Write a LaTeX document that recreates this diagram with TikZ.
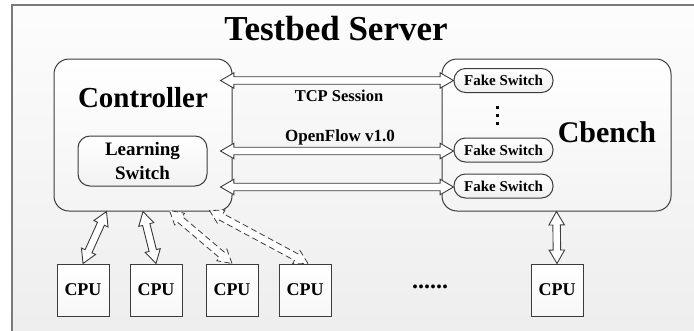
\documentclass[tikz,border=0pt]{standalone}
\usepackage{fontspec}
\setmainfont{Liberation Serif}
\usetikzlibrary{shapes.arrows,calc}
\definecolor{bordc}{HTML}{3C3C3C}
\definecolor{framec}{HTML}{7A7A7A}
\tikzset{
  bigbox/.style={draw=bordc, line width=1pt, rounded corners=15pt,
    top color=white, bottom color=gray!9, inner sep=0pt},
  lsbox/.style={draw=bordc, line width=1pt, rounded corners=12pt,
    top color=white, bottom color=gray!10, inner sep=0pt, align=center,
    font=\bfseries\fontsize{19}{24}\selectfont},
  fsbox/.style={draw=bordc, line width=1pt, rounded corners=11.5pt,
    top color=white, bottom color=gray!12, inner sep=0pt,
    minimum width=99pt, minimum height=24pt,
    font=\bfseries\fontsize{15}{16}\selectfont},
  cpubox/.style={draw=bordc, line width=1pt, top color=white, bottom color=gray!6,
    inner sep=0pt, minimum width=52pt, minimum height=52pt,
    font=\bfseries\fontsize{18}{20}\selectfont},
  lbl/.style={inner sep=0pt, font=\bfseries},
  dblarrow/.style={double arrow, draw=bordc, fill=white, line width=0.9pt,
    inner xsep=0pt, inner ysep=3.3pt, double arrow head extend=4pt,
    double arrow tip angle=60, anchor=center},
  dblarrowd/.style={dblarrow, dash pattern=on 6pt off 3.5pt, line width=0.8pt},
  vdot/.style={fill=black, minimum size=3pt, inner sep=0pt},
}
\newcommand\dblconn[3][]{%
  \path let \p1=#2, \p2=#3, \n1={atan2(\y2-\y1,\x2-\x1)},
    \n2={veclen(\x2-\x1,\y2-\y1)} in
    node[dblarrow,#1,rotate=\n1,minimum height=\n2] at ($(\p1)!0.5!(\p2)$) {};}
\begin{document}
\begin{tikzpicture}[x=1pt,y=-1pt]
\useasboundingbox (0,0) rectangle (694,330);
\clip (0,0) rectangle (694,330);
% frame
\path[draw=framec, line width=1.2pt, top color=gray!2, bottom color=gray!14]
  (12,5) rectangle (710,345);
\node[lbl, font=\bfseries\fontsize{35}{40}\selectfont] (title) at (336,29) {Testbed Server};
% big boxes
\node[bigbox, minimum width=178pt, minimum height=152pt] (ctrl) at (143,135) {};
\node[bigbox, minimum width=229pt, minimum height=152pt] (cb) at (556.5,135) {};
\node[lbl, font=\bfseries\fontsize{29}{32}\selectfont] (ctrltxt) at (143,98) {Controller};
\node[lbl, font=\bfseries\fontsize{30}{34}\selectfont] (cbtxt) at (607,132) {Cbench};
\node[lsbox, minimum width=129pt, minimum height=50pt] (ls) at (142.5,161) {Learning\\Switch};
% fake switches
\node[fsbox] (fs1) at (503.5,80.5) {Fake Switch};
\node[fsbox] (fs2) at (503.5,150) {Fake Switch};
\node[fsbox] (fs3) at (503.5,186) {Fake Switch};
\node[vdot] (d1) at (497,107) {};
\node[vdot] (d2) at (497,115) {};
\node[vdot] (d3) at (497,123) {};
% labels
\node[lbl, font=\bfseries\fontsize{16.5}{18}\selectfont] (tcp) at (339,96) {TCP Session};
\node[lbl, font=\bfseries\fontsize{17}{18}\selectfont] (of) at (340,137) {OpenFlow v1.0};
% CPUs
\node[cpubox] (cpu1) at (83,290) {CPU};
\node[cpubox] (cpu2) at (156,290) {CPU};
\node[cpubox] (cpu3) at (232,290) {CPU};
\node[cpubox] (cpu4) at (305,290) {CPU};
\node[cpubox] (cpu5) at (557,290) {CPU};
\node[lbl, font=\bfseries\fontsize{24}{26}\selectfont] (dots) at (430,287) {......};
% connector end points on the controller
\coordinate (h1) at ($(fs1.west -| ctrl.east)+(-12,0)$);
\coordinate (h2) at ($(fs2.west -| ctrl.east)+(-12,1)$);
\coordinate (h3) at ($(fs3.west -| ctrl.east)+(-12,1)$);
\coordinate (b1) at ($(ctrl.south west)+(53,0)$);
\coordinate (b3) at ($(ctrl.south west)+(116,-1)$);
\coordinate (b4) at ($(ctrl.south west)+(156,-1)$);
\coordinate (c4) at ($(cpu4.north)+(3,0)$);
% horizontal connectors
\dblconn{(h1)}{(fs1.west)}
\dblconn{(h2)}{($(fs2.west)+(0,1)$)}
\dblconn{(h3)}{($(fs3.west)+(0,1)$)}
% vertical / diagonal connectors
\dblconn{(b1)}{(cpu1.north)}
\dblconn{(ctrl.south)}{(cpu2.north)}
\dblconn[dblarrowd]{(b3)}{(cpu3.north)}
\dblconn[dblarrowd]{(b4)}{(c4)}
\dblconn{(cb.south)}{(cpu5.north)}
\end{tikzpicture}
\end{document}
